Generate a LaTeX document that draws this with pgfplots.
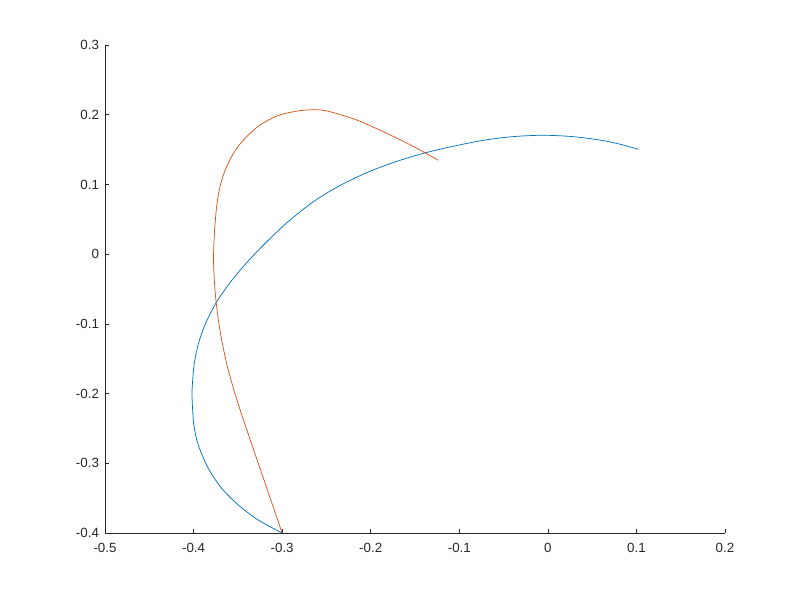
\documentclass[border=0pt]{standalone}
\usepackage{fontspec}
\setmainfont{Liberation Sans}
\usepackage{pgfplots}
\pgfplotsset{compat=1.18}
\definecolor{mblue}{rgb}{0,0.447,0.741}
\definecolor{morange}{rgb}{0.85,0.325,0.098}
\definecolor{maxis}{rgb}{0.15,0.15,0.15}
\begin{document}
\begin{tikzpicture}
\path[use as bounding box] (0,0) rectangle (600pt,450pt);
% data origin (0,0) sits at pixel (547.9, 254.2) of the 800x600 frame
\begin{axis}[
  at={(410.9pt,259.4pt)}, anchor=origin,
  scale only axis, width=465pt, height=366pt,
  xmin=-0.5, xmax=0.2, ymin=-0.4, ymax=0.3,
  xtick={-0.5,-0.4,...,0.21}, ytick={-0.4,-0.3,...,0.31},
  axis lines*=left, tick align=inside,
  major tick length=3pt,
  axis line style={maxis, line width=0.5pt},
  every tick/.style={maxis, line width=0.5pt},
  tick label style={font=\fontsize{10}{12}\selectfont, text=maxis},
  /pgf/number format/assume math mode=true,
  /pgf/number format/.cd, fixed, precision=1, /tikz/.cd,
  xticklabel style={yshift=-4pt},
  yticklabel style={xshift=-1pt},
  clip=false,
]
\addplot[mblue, line width=0.55pt, smooth, tension=0.5] coordinates {
(0.1021,0.1504) (0.0815,0.1577) (0.0589,0.1636) (0.0287,0.1685)
(-0.0051,0.1705) (-0.0390,0.1686) (-0.0690,0.1640) (-0.0992,0.1568)
(-0.1406,0.1446) (-0.1782,0.1298) (-0.2084,0.1147) (-0.2384,0.0959)
(-0.2648,0.0752) (-0.2911,0.0489) (-0.3137,0.0224) (-0.3363,-0.0070)
(-0.3569,-0.0376) (-0.3739,-0.0683) (-0.3864,-0.0992) (-0.3944,-0.1279)
(-0.3992,-0.1566) (-0.4015,-0.1900) (-0.4016,-0.2100) (-0.3997,-0.2451)
(-0.3947,-0.2738) (-0.3834,-0.3072) (-0.3683,-0.3359) (-0.3495,-0.3599)
(-0.3270,-0.3814) (-0.3000,-0.4000)
};
\addplot[morange, line width=0.55pt, smooth, tension=0.5] coordinates {
(-0.3000,-0.4000) (-0.3160,-0.3408) (-0.3276,-0.2977) (-0.3392,-0.2547)
(-0.3474,-0.2236) (-0.3556,-0.1902) (-0.3636,-0.1519) (-0.3703,-0.1088)
(-0.3746,-0.0682) (-0.3766,-0.0371) (-0.3775,-0.0037) (-0.3760,0.0394)
(-0.3730,0.0777) (-0.3682,0.1063) (-0.3610,0.1303) (-0.3513,0.1518)
(-0.3400,0.1685) (-0.3250,0.1852) (-0.3061,0.1981) (-0.2874,0.2043)
(-0.2723,0.2068) (-0.2573,0.2068) (-0.2460,0.2043) (-0.2158,0.1924)
(-0.1819,0.1733) (-0.1519,0.1545) (-0.1237,0.1346)
};
\end{axis}
\end{tikzpicture}
\end{document}
